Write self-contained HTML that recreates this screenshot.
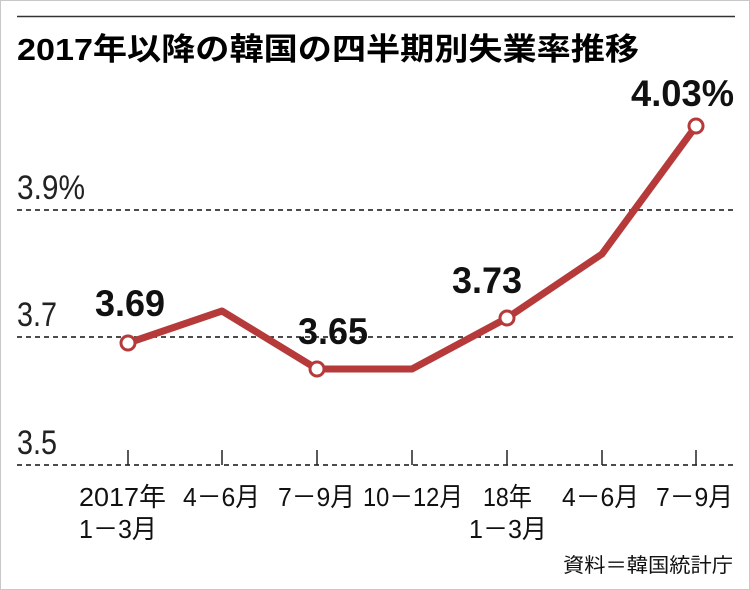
<!DOCTYPE html>
<html><head><meta charset="utf-8"><style>
body{margin:0;background:#fff}
svg{display:block}
text{font-family:"Liberation Sans","Noto Sans CJK JP",sans-serif}
</style></head><body>
<svg width="750" height="590" viewBox="0 0 750 590" xmlns="http://www.w3.org/2000/svg">
<rect x="0.5" y="0.5" width="749" height="589" fill="#fff" stroke="#c8c8c8"/>
<line x1="17" y1="16.5" x2="735" y2="16.5" stroke="#333" stroke-width="1.5"/>
<text x="17" y="60" font-size="31" font-weight="bold" fill="#000" textLength="622" lengthAdjust="spacingAndGlyphs">2017年以降の韓国の四半期別失業率推移</text>
<g stroke="#111" stroke-width="1.4" stroke-dasharray="5,4">
<line x1="17" y1="210" x2="735" y2="210"/>
<line x1="17" y1="337" x2="735" y2="337"/>
<line x1="17" y1="465" x2="735" y2="465"/>
</g>
<g fill="#222" font-size="34">
<text x="17" y="199" textLength="68" lengthAdjust="spacingAndGlyphs">3.9%</text>
<text x="17" y="326" textLength="40" lengthAdjust="spacingAndGlyphs">3.7</text>
<text x="17" y="454" textLength="40" lengthAdjust="spacingAndGlyphs">3.5</text>
</g>
<g stroke="#222" stroke-width="1.5">
<line x1="128" y1="450" x2="128" y2="465"/><line x1="222" y1="450" x2="222" y2="465"/>
<line x1="317" y1="450" x2="317" y2="465"/><line x1="412" y1="450" x2="412" y2="465"/>
<line x1="507" y1="450" x2="507" y2="465"/><line x1="602" y1="450" x2="602" y2="465"/>
<line x1="696" y1="450" x2="696" y2="465"/>
</g>
<polyline points="128,343 222,311 317,369 412,369 507,318 602,254 696,126" fill="none" stroke="#b73a3a" stroke-width="7" stroke-linejoin="round"/>
<g fill="#fff" stroke="#b73a3a" stroke-width="3">
<circle cx="128" cy="343" r="7"/><circle cx="317" cy="369" r="7"/><circle cx="507" cy="318" r="7"/><circle cx="696" cy="126" r="7"/>
</g>
<g font-size="37" font-weight="bold" fill="#111">
<text x="95" y="316" textLength="70" lengthAdjust="spacingAndGlyphs">3.69</text>
<text x="298" y="344" textLength="70" lengthAdjust="spacingAndGlyphs">3.65</text>
<text x="452" y="293" textLength="70" lengthAdjust="spacingAndGlyphs">3.73</text>
<text x="631" y="106" textLength="103" lengthAdjust="spacingAndGlyphs">4.03%</text>
</g>
<g font-size="26" fill="#111">
<text x="79" y="506" textLength="87" lengthAdjust="spacingAndGlyphs">2017年</text>
<text x="79" y="538" textLength="78" lengthAdjust="spacingAndGlyphs">1－3月</text>
<text x="183" y="506" textLength="77" lengthAdjust="spacingAndGlyphs">4－6月</text>
<text x="278" y="506" textLength="77" lengthAdjust="spacingAndGlyphs">7－9月</text>
<text x="363" y="506" textLength="100" lengthAdjust="spacingAndGlyphs">10－12月</text>
<text x="483" y="506" textLength="49" lengthAdjust="spacingAndGlyphs">18年</text>
<text x="469" y="538" textLength="78" lengthAdjust="spacingAndGlyphs">1－3月</text>
<text x="562" y="506" textLength="77" lengthAdjust="spacingAndGlyphs">4－6月</text>
<text x="656" y="506" textLength="77" lengthAdjust="spacingAndGlyphs">7－9月</text>
</g>
<text x="563" y="572" font-size="20" fill="#111" textLength="170" lengthAdjust="spacingAndGlyphs">資料＝韓国統計庁</text>
</svg>
</body></html>
